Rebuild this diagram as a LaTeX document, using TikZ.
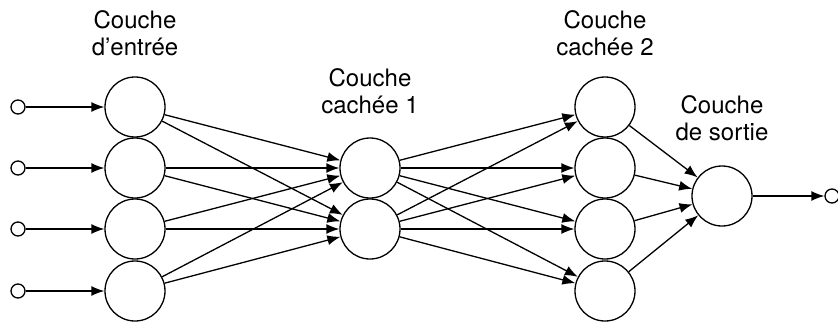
\documentclass[tikz,border=0pt]{standalone}
\usepackage{fontspec}
\setmainfont{TeX Gyre Heros}
\usetikzlibrary{arrows.meta}

\begin{document}
\begin{tikzpicture}[x=1pt,y=-1pt,
  neuron/.style={circle,draw,line width=1.3pt,minimum size=60pt,inner sep=0pt},
  port/.style={circle,draw,line width=1.3pt,minimum size=14pt,inner sep=0pt},
  conn/.style={line width=1.3pt,-{Latex[length=13pt,width=10pt]}},
  layer/.style={align=center,inner sep=0pt,font=\fontsize{24}{27}\selectfont}]
\useasboundingbox (0,0) rectangle (838,324);
% input layer, hidden layer 2
\foreach \i/\y in {1/107,2/168,3/229,4/291} {
  \node[port] (x\i) at (18,\y) {};
  \node[neuron] (e\i) at (135,\y) {};
  \node[neuron] (c\i) at (605,\y) {};
  \draw[conn] (x\i) -- (e\i);
}
% hidden layer 1
\node[neuron] (h1) at (370,168) {};
\node[neuron] (h2) at (370,229) {};
% output
\node[neuron] (s) at (722,196) {};
\node[port] (y) at (832,196) {};
% labels
\node[layer] (le) at (135,33) {Couche\\d'entrée};
\node[layer] (lh) at (370,91) {Couche\\cachée 1};
\node[layer] (lc) at (605,33) {Couche\\cachée 2};
\node[layer] (ls) at (722,118) {Couche\\de sortie};
% connections
\foreach \i in {1,...,4}
  \foreach \j in {1,2}
    \draw[conn] (e\i) -- (h\j);
\foreach \j in {1,2}
  \foreach \k in {1,...,4}
    \draw[conn] (h\j) -- (c\k);
\foreach \k in {1,...,4}
  \draw[conn] (c\k) -- (s);
\draw[conn] (s) -- (y);
\end{tikzpicture}
\end{document}
